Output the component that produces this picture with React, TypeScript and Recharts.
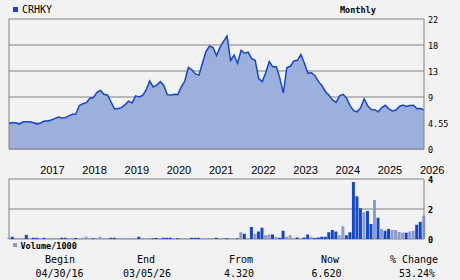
import {
  Area,
  AreaChart,
  Bar,
  CartesianGrid,
  Cell,
  ComposedChart,
  ReferenceLine,
  XAxis,
  YAxis,
} from "recharts";

// monthly closes, May 2016 -> Mar 2026
const price = [
  4.32, 4.5, 4.4, 4.2, 4.6, 4.6, 4.6, 4.45, 4.2, 4.4,
  4.74, 4.74, 4.9, 5.15, 5.4, 5.25, 5.3, 5.6, 5.87, 5.87,
  7.35, 7.67, 7.85, 8.6, 8.7, 9.6, 9.9, 9.25, 9.15, 8.0,
  6.77, 6.85, 7.0, 7.5, 8.1, 7.8, 9.0, 8.8, 9.05, 10.0,
  11.5, 10.5, 10.8, 11.4, 10.8, 9.2, 9.1, 9.25, 9.2, 10.5,
  11.5, 13.8, 13.4, 12.7, 12.5, 14.5, 16.5, 17.4, 17.2, 15.8,
  17.2, 18.2, 19.1, 15.0, 15.9, 14.5, 16.7, 16.2, 16.4, 15.3,
  15.0, 11.9, 11.4, 12.9, 14.8, 13.9, 13.9, 12.0, 9.5, 13.8,
  14.0, 14.9, 15.0, 16.0, 14.5, 12.8, 12.9, 12.4, 11.4, 10.7,
  9.7, 9.1, 8.3, 7.9, 9.0, 9.25, 8.6, 7.3, 6.5, 6.3,
  7.0, 8.5, 7.3, 6.7, 6.65, 6.3, 7.0, 7.4, 6.8, 6.45,
  6.6, 7.2, 7.45, 7.2, 7.35, 7.4, 6.8, 6.85, 6.62,
];

// volume / 1000
const volume = [
  0.08, 0.15, 0.06, 0.05, 0.07, 0.27, 0.06, 0.08, 0.08, 0.05,
  0.08, 0.06, 0.05, 0.07, 0.06, 0.08, 0.08, 0.05, 0.06, 0.07,
  0.06, 0.08, 0.15, 0.07, 0.06, 0.05, 0.15, 0.06, 0.05, 0.08,
  0.08, 0.06, 0.07, 0.05, 0.06, 0.07, 0.06, 0.15, 0.06, 0.05,
  0.06, 0.05, 0.07, 0.06, 0.08, 0.08, 0.08, 0.05, 0.06, 0.07,
  0.06, 0.05, 0.08, 0.08, 0.08, 0.05, 0.07, 0.07, 0.06, 0.08,
  0.05, 0.07, 0.06, 0.05,
  0.05, 0.05, 0.45, 0.35, 0.05, 0.8, 0.35, 0.5, 0.75, 0.25,
  0.3, 0.3, 0.15, 0.08, 0.55, 0.15, 0.25, 0.05, 0.1, 0.05,
  0.1, 0.3, 0.15, 0.07, 0.1, 0.15, 0.15, 0.45, 0.6, 0.5,
  0.25, 0.85, 0.25, 0.45, 3.8, 2.85, 2.05, 1.78, 1.87, 1.0,
  2.6, 1.42, 0.67, 0.55, 0.67, 0.6, 0.6, 0.47, 0.42, 0.42,
  0.5, 0.55, 0.95, 1.15, 1.55,
];

// 1 = up month (dark bar), 0 = down month (light bar)
const volumeUp = [
  0, 1, 0, 0, 0, 1, 0, 1, 1, 0,
  1, 0, 0, 0, 0, 1, 1, 0, 0, 1,
  0, 0, 0, 0, 1, 0, 0, 0, 0, 1,
  1, 0, 0, 0, 0, 0, 0, 1, 0, 0,
  0, 1, 1, 0, 1, 1, 1, 0, 1, 0,
  0, 0, 1, 1, 1, 0, 0, 0, 0, 1,
  0, 0, 1, 0,
  0, 1, 0, 1, 0, 1, 0, 1, 1, 0,
  0, 1, 0, 1, 1, 0, 0, 0, 1, 0,
  1, 1, 0, 1, 1, 1, 1, 1, 1, 1,
  0, 0, 1, 1, 1, 1, 1, 0, 1, 1,
  0, 1, 0, 1, 1, 0, 0, 0, 0, 1,
  0, 0, 1, 1, 0,
];

const yearTicks = [8, 20, 32, 44, 56, 68, 80, 92, 104, 116];
const yearLabels = ["2017", "2018", "2019", "2020", "2021", "2022", "2023", "2024", "2025", "2026"];
const priceTicks = [0, 4.4, 8.8, 13.2, 17.6, 22];
const priceTickLabels = ["0", "4.55", "9", "13", "18", "22"];
const volTicks = [0, 2, 4];

const summaryHead = ["Begin", "End", "From", "Now", "% Change"];
const summaryVals = ["04/30/16", "03/05/26", "4.320", "6.620", "53.24%"];

const priceData = price.map((p, i) => ({ i, price: p }));
const volData = volume.map((v, i) => ({ i, vol: v, up: volumeUp[i] }));

const GRID = "#808080";
const BG = "#f2f2f2";
const DARK = "#1447c8";
const LIGHT = "#8a9bcc";
const MONO = "'DejaVu Sans Mono', monospace";

const YearTick = (props: any) => {
  const idx = yearTicks.indexOf(props.payload.value);
  return (
    <text x={props.x + 3} y={props.y + 25} fontSize={11} fontFamily="'Liberation Sans', Arial" fill="#000" textAnchor="start">
      {yearLabels[idx]}
    </text>
  );
};

const PriceTick = (props: any) => {
  const idx = priceTicks.indexOf(props.payload.value);
  return (
    <text x={428} y={props.y + 4} fontSize={8.5} fontFamily={MONO} fill="#000">
      {priceTickLabels[idx]}
    </text>
  );
};

const VolTick = (props: any) => (
  <text x={428} y={props.y + 4} fontSize={8.5} fontFamily={MONO} fill="#000" fontWeight="bold">
    {props.payload.value}
  </text>
);

const heads = [60, 146, 241, 330, 414];
const vals = [59.5, 147, 239, 326.5, 417];

export default function App() {
  return (
    <div style={{ position: "absolute", left: 0, top: 0, width: 460, height: 280, background: BG, overflow: "hidden" }}>
      <div style={{ position: "absolute", left: 0, top: 0 }}>
        <AreaChart width={460} height={180} data={priceData} margin={{ top: 19, right: 0, bottom: 0, left: 9 }}>
          <CartesianGrid vertical={false} stroke={GRID} />
          <XAxis
            dataKey="i"
            type="number"
            domain={[0, 118]}
            ticks={yearTicks}
            interval={0}
            tick={<YearTick />}
            tickLine={false}
            tickSize={0}
            tickMargin={0}
            height={31}
            axisLine={{ stroke: GRID }}
          />
          <YAxis
            orientation="right"
            width={36}
            domain={[0, 22]}
            ticks={priceTicks}
            interval={0}
            tick={<PriceTick />}
            tickLine={false}
            axisLine={{ stroke: GRID }}
          />
          <Area
            type="linear"
            dataKey="price"
            stroke={DARK}
            strokeWidth={1.5}
            fill="#9db0dc"
            fillOpacity={1}
            dot={false}
            activeDot={false}
            isAnimationActive={false}
          />
          <ReferenceLine x={0} stroke={GRID} />
        </AreaChart>
      </div>
      <div style={{ position: "absolute", left: 0, top: 175 }}>
        <ComposedChart width={460} height={70} data={volData} margin={{ top: 4, right: 0, bottom: 6, left: 9 }}>
          <CartesianGrid vertical={false} stroke={GRID} />
          <XAxis dataKey="i" type="number" domain={[0, 118]} tick={false} tickLine={false} height={0} axisLine={{ stroke: GRID }} />
          <YAxis
            orientation="right"
            width={36}
            domain={[0, 4]}
            ticks={volTicks}
            interval={0}
            tick={<VolTick />}
            tickLine={false}
            axisLine={{ stroke: GRID }}
          />
          <Bar dataKey="vol" barSize={3} isAnimationActive={false}>
            {volData.map((d) => (
              <Cell key={d.i} fill={d.up ? DARK : LIGHT} />
            ))}
          </Bar>
          <ReferenceLine x={0} stroke={GRID} />
        </ComposedChart>
      </div>
      <svg width={460} height={280} style={{ position: "absolute", left: 0, top: 0, pointerEvents: "none" }}>
        <rect x={13} y={7} width={5} height={5} fill={DARK} />
        <text x={22} y={13} fontSize={10} fontFamily={MONO} fill="#000">CRHKY</text>
        <text x={340} y={12.5} fontSize={8.5} fontFamily={MONO} fontWeight="bold" fill="#000">Monthly</text>
        <rect x={13} y={243} width={4} height={4} fill={LIGHT} />
        <text x={20.5} y={248.5} fontSize={8.5} fontFamily={MONO} fontWeight="bold" fill="#000">Volume/1000</text>
        {summaryHead.map((h, k) => (
          <text key={h} x={heads[k]} y={263} fontSize={10} fontFamily={MONO} textAnchor="middle" fill="#000">{h}</text>
        ))}
        {summaryVals.map((v, k) => (
          <text key={v} x={vals[k]} y={277} fontSize={10} fontFamily={MONO} textAnchor="middle" fill="#000">{v}</text>
        ))}
      </svg>
    </div>
  );
}
